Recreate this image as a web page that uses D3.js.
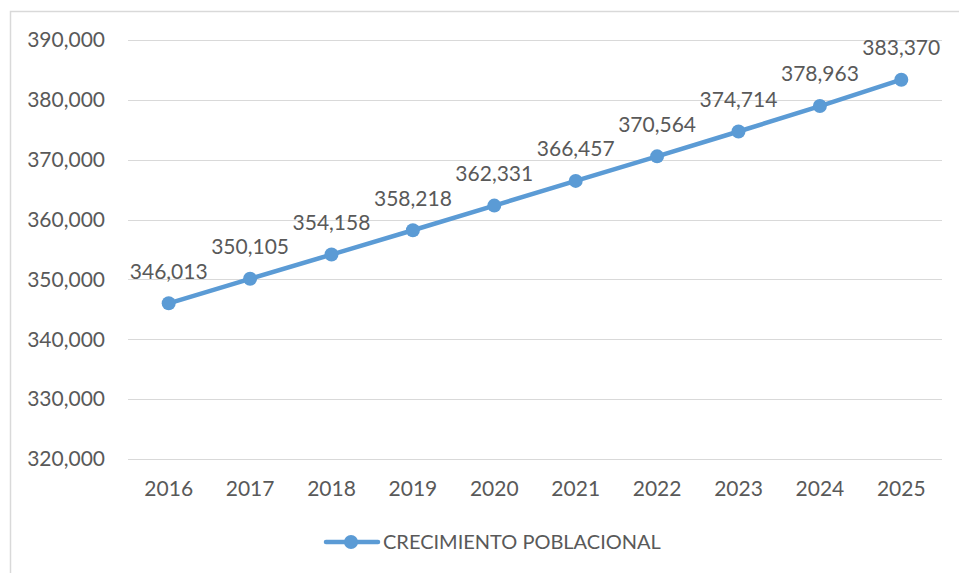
<!DOCTYPE html>
<html>
<head>
<meta charset="utf-8">
<script src="https://cdn.jsdelivr.net/npm/d3@7"></script>
<style>
  body { margin: 0; background: #fff; }
  text { font-family: Lato, "Open Sans", sans-serif; fill: #595959; }
</style>
</head>
<body>
<svg id="chart" width="959" height="573"></svg>
<script>
// data
var years = ["2016", "2017", "2018", "2019", "2020", "2021", "2022", "2023", "2024", "2025"];
var poblacion = [346013, 350105, 354158, 358218, 362331, 366457, 370564, 374714, 378963, 383370];
var yTicks = [320000, 330000, 340000, 350000, 360000, 370000, 380000, 390000];
var serieName = "CRECIMIENTO POBLACIONAL";

var blue = "#5B9BD5";
var fmt = d3.format(",");

var svg = d3.select("#chart");

// outer border of the chart area
svg.append("rect")
  .attr("x", 10.5).attr("y", 11.5)
  .attr("width", 980).attr("height", 600)
  .style("fill", "none").style("stroke", "#d9d9d9").style("stroke-width", 1.5);

var x = d3.scaleBand().domain(years).range([128, 942]);
var y = d3.scaleLinear().domain([320000, 390000]).range([459, 40]);

// gridlines
svg.selectAll("grid")
  .data(yTicks)
  .enter()
  .append("line")
    .attr("x1", 128).attr("x2", 942)
    .attr("y1", function(d){ return Math.round(y(d)) + 0.5 })
    .attr("y2", function(d){ return Math.round(y(d)) + 0.5 })
    .style("stroke", "#d9d9d9").style("stroke-width", 1.2)

// y axis labels
var yAxis = d3.axisLeft(y).tickValues(yTicks).tickFormat(fmt).tickSize(0).tickPadding(23);
var gy = svg.append("g").attr("transform", "translate(128,0)").call(yAxis);
gy.select(".domain").remove();
gy.selectAll("text").style("font-size", "21px").style("fill", "#595959").style("font-family", "Lato");

// x axis labels
var xAxis = d3.axisBottom(x).tickSize(0).tickPadding(22);
var gx = svg.append("g").attr("transform", "translate(0,459)").call(xAxis);
gx.select(".domain").remove();
gx.selectAll("text").style("font-size", "21px").style("fill", "#595959").style("font-family", "Lato");

var cx = function(d, i){ return x(years[i]) + x.bandwidth()/2 };

// line
var line = d3.line()
  .x(function(d, i){ return cx(d, i) })
  .y(function(d){ return y(d) });

svg.append("path")
  .datum(poblacion)
  .attr("d", line)
  .style("fill", "none")
  .style("stroke", blue)
  .style("stroke-width", 4.5)
  .style("stroke-linecap", "round")

svg.selectAll("dots")
  .data(poblacion)
  .enter()
  .append("circle")
    .attr("cx", cx)
    .attr("cy", function(d){ return y(d) })
    .attr("r", 7)
    .style("fill", blue)

// value labels
svg.selectAll("vlabels")
  .data(poblacion)
  .enter()
  .append("text")
    .attr("x", cx)
    .attr("y", function(d){ return y(d) - 30 })
    .text(function(d){ return fmt(d) })
    .attr("text-anchor", "middle")
    .style("font-size", "21px")
    .style("dominant-baseline", "middle")

// legend
svg.append("line").attr("x1", 326).attr("y1", 542).attr("x2", 378).attr("y2", 542)
  .style("stroke", blue).style("stroke-width", 4.5).style("stroke-linecap", "round")
svg.append("circle").attr("cx", 351).attr("cy", 542).attr("r", 7).style("fill", blue)
svg.append("text")
  .attr("x", 383)
  .attr("y", 544)
  .text(serieName)
  .style("font-size", "20px")
  .style("dominant-baseline", "middle")
</script>
</body>
</html>
